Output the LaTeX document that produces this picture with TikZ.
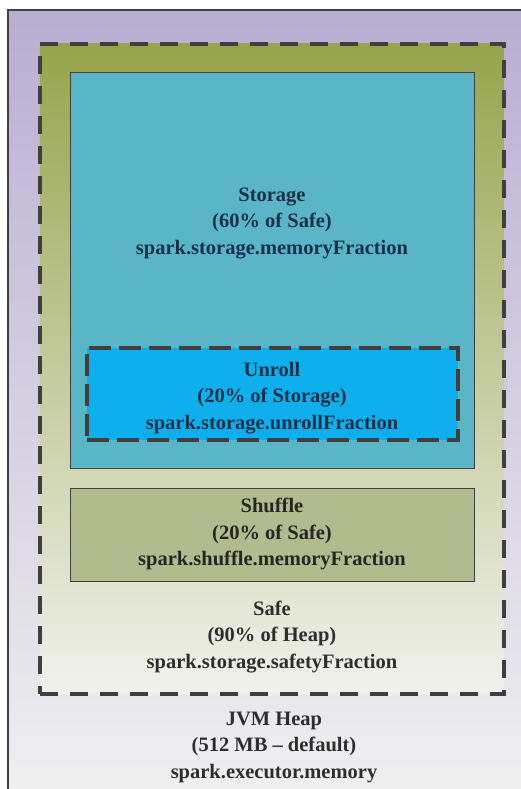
\documentclass[tikz,border=0pt]{standalone}
\usepackage{fontspec}
\setmainfont{Liberation Serif}
\usetikzlibrary{positioning}

\definecolor{heapTop}{HTML}{B8AED2}
\definecolor{heapMiddle}{HTML}{D2CCE2}
\definecolor{heapBottom}{HTML}{F0F0F0}
\definecolor{safeTop}{HTML}{96A44C}
\definecolor{safeBottom}{HTML}{F1F1EC}
\definecolor{storageFill}{HTML}{5AB5C6}
\definecolor{unrollFill}{HTML}{0EAFEC}
\definecolor{shuffleFill}{HTML}{B2BB8D}
\definecolor{frameLine}{HTML}{3E3E46}
\definecolor{dashLine}{HTML}{3F3F3F}
\definecolor{navyText}{HTML}{1B3149}
\definecolor{greyText}{HTML}{2E2E2E}

\begin{document}
\begin{tikzpicture}[x=1pt,y=-1pt,
    area/.style={draw=black!75,line width=0.9pt,inner sep=0pt,anchor=north west},
    region/.style={draw=dashLine,line width=3.8pt,dash pattern=on 18pt off 12pt,
                   inner sep=0pt,anchor=north west},
    caption/.style={align=center,font=\bfseries\fontsize{20.5}{26.5}\selectfont}]
  \useasboundingbox (0,0) rectangle (520,789);

  % heap background and its frame
  \shade[top color=heapTop,middle color=heapMiddle,bottom color=heapBottom]
     (8,10) rectangle (530,800);
  \draw[frameLine,line width=1.2pt] (8,800) -- (8,10) -- (530,10);

  % safe fraction
  \node[region,name=safe,top color=safeTop,bottom color=safeBottom,
        minimum width=464pt,minimum height=650pt] at (38,42) {};

  % storage and shuffle
  \node[area,name=storage,fill=storageFill,
        minimum width=404pt,minimum height=396pt] at (70,72) {};
  \node[area,name=shuffle,fill=shuffleFill,below=19pt of storage,anchor=north,
        minimum width=404pt,minimum height=93pt] {};

  % unroll sits inside storage
  \node[region,name=unroll,fill=unrollFill,dash pattern=on 22pt off 8pt,
        above=27pt of storage.south,anchor=south,
        minimum width=371pt,minimum height=92pt] {};

  \node[caption,text=navyText,name=storageText] at (272,223)
     {Storage\\(60\% of Safe)\\spark.storage.memoryFraction};
  \node[caption,text=navyText,name=unrollText] at (272,398)
     {Unroll\\(20\% of Storage)\\spark.storage.unrollFraction};
  \node[caption,text=black!85,name=shuffleText] at (272,534)
     {Shuffle\\(20\% of Safe)\\spark.shuffle.memoryFraction};
  \node[caption,text=greyText,name=safeText] at (272,637)
     {Safe\\(90\% of Heap)\\spark.storage.safetyFraction};
  \node[caption,text=greyText,name=heapText] at (274,747)
     {JVM Heap\\(512 MB -- default)\\spark.executor.memory};
\end{tikzpicture}
\end{document}
